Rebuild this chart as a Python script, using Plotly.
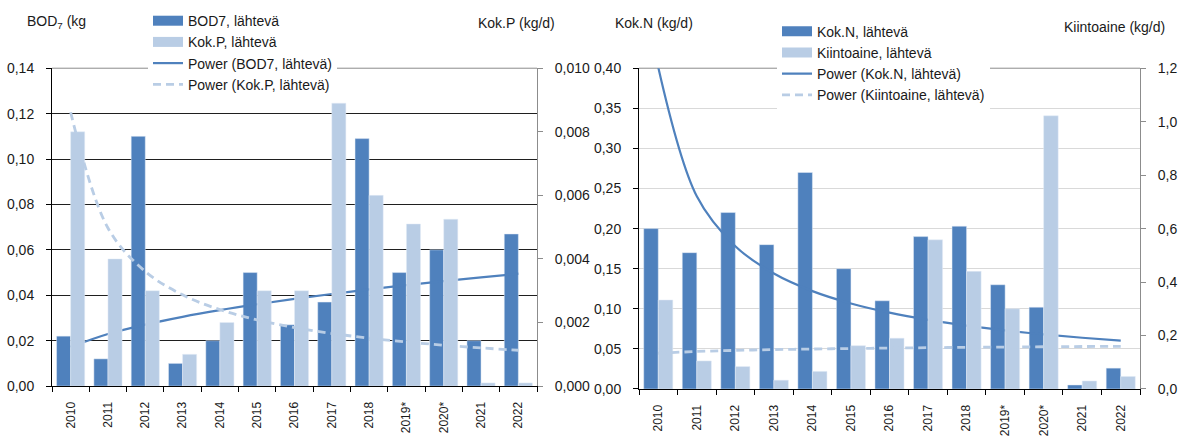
import numpy as np
import plotly.graph_objects as go

# Annual discharge loads (kg/d)
years = ["2010", "2011", "2012", "2013", "2014", "2015", "2016",
         "2017", "2018", "2019*", "2020*", "2021", "2022"]
bod7 = [0.022, 0.012, 0.110, 0.010, 0.020, 0.050, 0.027,
        0.037, 0.109, 0.050, 0.060, 0.020, 0.067]
kok_p = [0.0080, 0.0040, 0.0030, 0.0010, 0.0020, 0.0030, 0.0030,
         0.0089, 0.0060, 0.0051, 0.00525, 0.0001, 0.0001]
kok_n = [0.200, 0.170, 0.220, 0.180, 0.270, 0.150, 0.110,
         0.190, 0.203, 0.130, 0.102, 0.005, 0.026]
kiintoaine = [0.333, 0.105, 0.084, 0.033, 0.066, 0.162, 0.190,
              0.558, 0.440, 0.300, 1.022, 0.030, 0.047]

DARK = "#4F81BD"
LIGHT = "#B9CDE5"
FONT = "Liberation Sans, Arial, sans-serif"
TXT = "#1a1a1a"
W, H = 1184, 436


def power_trend(values):
    """Least-squares power trendline y = a * x^b over category index 1..n."""
    x = np.arange(1, len(values) + 1)
    b, ln_a = np.polyfit(np.log(x), np.log(values), 1)
    return (np.exp(ln_a) * x ** b).tolist()


def px_x(p):
    return p / W


def px_y(p):
    return 1 - p / H


fig = go.Figure()


def swatch(name, color, legend):
    # wide rectangular legend key for a bar series
    fig.add_trace(go.Scatter(x=[None], y=[None], mode="lines", name=name,
                             line=dict(color=color, width=10),
                             legend=legend, legendgroup=name,
                             xaxis="x" if legend == "legend" else "x2",
                             yaxis="y" if legend == "legend" else "y3"))


# ---- left panel: BOD7 and Kok.P ----
swatch("BOD7, lähtevä", DARK, "legend")
swatch("Kok.P, lähtevä", LIGHT, "legend")
fig.add_trace(go.Bar(x=years, y=bod7, marker_color=DARK, name="BOD7, lähtevä",
                     offsetgroup="a", legendgroup="BOD7, lähtevä", showlegend=False,
                     xaxis="x", yaxis="y"))
fig.add_trace(go.Bar(x=years, y=kok_p, marker_color=LIGHT, name="Kok.P, lähtevä",
                     offsetgroup="b", legendgroup="Kok.P, lähtevä", showlegend=False,
                     xaxis="x", yaxis="y2"))
fig.add_trace(go.Scatter(x=years, y=power_trend(bod7), mode="lines",
                         line=dict(color=DARK, width=2.2, shape="spline"),
                         name="Power (BOD7, lähtevä)", legend="legend",
                         xaxis="x", yaxis="y"))
fig.add_trace(go.Scatter(x=years, y=power_trend(kok_p), mode="lines",
                         line=dict(color=LIGHT, width=2.8, dash="8px,5px", shape="spline"),
                         name="Power (Kok.P, lähtevä)", legend="legend",
                         xaxis="x", yaxis="y2"))

# ---- right panel: Kok.N and Kiintoaine ----
swatch("Kok.N, lähtevä", DARK, "legend2")
swatch("Kiintoaine, lähtevä", LIGHT, "legend2")
fig.add_trace(go.Bar(x=years, y=kok_n, marker_color=DARK, name="Kok.N, lähtevä",
                     offsetgroup="c", legendgroup="Kok.N, lähtevä", showlegend=False,
                     xaxis="x2", yaxis="y3"))
fig.add_trace(go.Bar(x=years, y=kiintoaine, marker_color=LIGHT, name="Kiintoaine, lähtevä",
                     offsetgroup="d", legendgroup="Kiintoaine, lähtevä", showlegend=False,
                     xaxis="x2", yaxis="y4"))
fig.add_trace(go.Scatter(x=years, y=power_trend(kok_n), mode="lines",
                         line=dict(color=DARK, width=2.2, shape="spline"),
                         name="Power (Kok.N, lähtevä)", legend="legend2",
                         xaxis="x2", yaxis="y3"))
fig.add_trace(go.Scatter(x=years, y=power_trend(kiintoaine), mode="lines",
                         line=dict(color=LIGHT, width=2.8, dash="8px,5px", shape="spline"),
                         name="Power (Kiintoaine, lähtevä)", legend="legend2",
                         xaxis="x2", yaxis="y4"))

left_dom = [px_x(52), px_x(537)]
right_dom = [px_x(639), px_x(1140)]
ydom_l = [px_y(392.5), px_y(62.5)]
ydom_r = [px_y(395.5), px_y(62.5)]

xcommon = dict(type="category", showline=True, linecolor="black", linewidth=1,
               ticks="outside", ticklen=5, tickcolor="black", tickson="boundaries",
               showgrid=False, tickangle=-90,
               tickfont=dict(family=FONT, size=12, color=TXT), ticklabelstandoff=10)
ycommon = dict(showline=True, linewidth=1, ticks="outside", ticklen=5, zeroline=False,
               tickfont=dict(family=FONT, size=14, color=TXT), ticklabelstandoff=9)

fig.update_layout(
    width=W, height=H, margin=dict(l=0, r=0, t=0, b=0),
    paper_bgcolor="white", plot_bgcolor="white",
    separators=", ",
    barmode="group", bargap=0.245, bargroupgap=0,
    font=dict(family=FONT, size=14, color=TXT),
    xaxis=dict(domain=left_dom, anchor="y", **xcommon),
    xaxis2=dict(domain=right_dom, anchor="y3", **xcommon),
    yaxis=dict(domain=ydom_l, anchor="x", range=[0, 0.14], dtick=0.02, tickformat=".2f",
               linecolor="black", tickcolor="black", showgrid=True,
               gridcolor="#1f1f1f", gridwidth=1, **ycommon),
    yaxis2=dict(domain=ydom_l, anchor="x", overlaying="y", side="right",
                range=[0, 0.010], dtick=0.002, tickformat=".3f",
                linecolor="#8c8c8c", tickcolor="#8c8c8c", showgrid=False, **ycommon),
    yaxis3=dict(domain=ydom_r, anchor="x2", range=[0, 0.40], dtick=0.05, tickformat=".2f",
                linecolor="black", tickcolor="black", showgrid=True,
                gridcolor="#d9d9d9", gridwidth=1, **ycommon),
    yaxis4=dict(domain=ydom_r, anchor="x2", overlaying="y3", side="right",
                range=[0, 1.2], dtick=0.2, tickformat=".1f",
                linecolor="#8c8c8c", tickcolor="#8c8c8c", showgrid=False, **ycommon),
    legend=dict(x=px_x(148), y=px_y(-3), xanchor="left", yanchor="top",
                bgcolor="white", borderwidth=0, tracegroupgap=0,
                font=dict(family=FONT, size=14, color=TXT)),
    legend2=dict(x=px_x(777), y=px_y(8), xanchor="left", yanchor="top",
                 bgcolor="white", borderwidth=0, tracegroupgap=0,
                 font=dict(family=FONT, size=14, color=TXT)),
    showlegend=True,
)

# gray top border of each plot area
for xr, yr in (("x", "y"), ("x2", "y3")):
    fig.add_shape(type="line", xref=f"{xr} domain", yref=f"{yr} domain",
                  x0=0, x1=1, y0=1, y1=1, line=dict(color="#8c8c8c", width=1), layer="below")

# axis captions
captions = [
    ("BOD<sub>7</sub> (kg", 25, 15, "left"),
    ("Kok.P (kg/d)", 557, 16, "right"),
    ("Kok.N (kg/d)", 613, 16, "left"),
    ("Kiintoaine (kg/d)", 1167, 20, "right"),
]
for text, x, y, anchor in captions:
    fig.add_annotation(text=text, x=px_x(x), y=px_y(y), xref="paper", yref="paper",
                       xanchor=anchor, yanchor="middle", showarrow=False,
                       font=dict(family=FONT, size=14, color=TXT))

fig.write_html("out.html")
